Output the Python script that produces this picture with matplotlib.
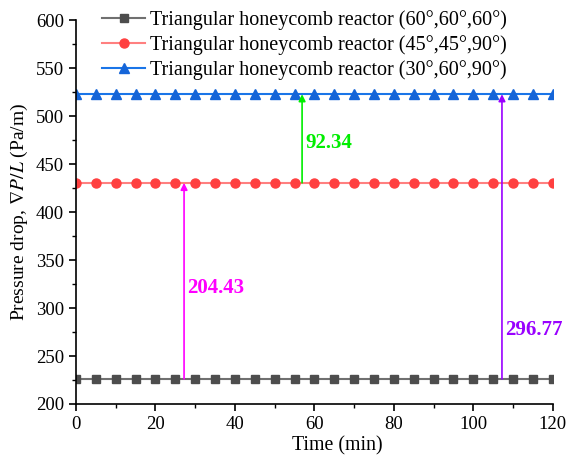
import matplotlib.pyplot as plt
import numpy as np
from matplotlib.ticker import MultipleLocator

plt.rcParams.update({
    'font.family': 'Liberation Serif',
    'mathtext.fontset': 'stix',
    'font.size': 13,
})

time_min = np.arange(0, 121, 5)
p_60_60_60 = [226.0] * len(time_min)
p_45_45_90 = [430.43] * len(time_min)
p_30_60_90 = [522.77] * len(time_min)

labels = [
    'Triangular honeycomb reactor (60°,60°,60°)',
    'Triangular honeycomb reactor (45°,45°,90°)',
    'Triangular honeycomb reactor (30°,60°,90°)',
]

# difference arrows: (x position, bottom level, top level, text, text y, color)
diffs = [
    (27.2, 226.0, 430.43, '204.43', 321, '#ff00ff'),
    (56.9, 430.43, 522.77, '92.34', 472, '#00ee00'),
    (107.2, 226.0, 522.77, '296.77', 277, '#9900ff'),
]

fig = plt.figure(figsize=(5.67, 4.57), dpi=100)
ax = fig.add_axes([0.134, 0.116, 0.841, 0.840])

ax.plot(time_min, p_60_60_60, color='#707070', lw=1.5, marker='s', ms=6,
        mfc='#4d4d4d', mec='#4d4d4d', label=labels[0])
ax.plot(time_min, p_45_45_90, color='#ff8080', lw=1.5, marker='o', ms=6.5,
        mfc='#ff4040', mec='#ff4040', label=labels[1])
ax.plot(time_min, p_30_60_90, color='#1a75e8', lw=1.5, marker='^', ms=7,
        mfc='#1565d8', mec='#1565d8', label=labels[2])

for x, lo, hi, txt, ty, col in diffs:
    ax.annotate('', xy=(x, hi), xytext=(x, lo),
                arrowprops=dict(arrowstyle='-|>', color=col, lw=1.2,
                                mutation_scale=10, shrinkA=0, shrinkB=0))
    ax.text(x + 0.8, ty, txt, color=col, fontsize=15, fontweight='bold',
            va='center', ha='left')

ax.set_xlim(0, 120)
ax.set_ylim(200, 600)
ax.xaxis.set_major_locator(MultipleLocator(20))
ax.xaxis.set_minor_locator(MultipleLocator(10))
ax.yaxis.set_major_locator(MultipleLocator(50))
ax.yaxis.set_minor_locator(MultipleLocator(25))
ax.tick_params(which='major', direction='out', length=5, width=1.2, labelsize=13.5)
ax.tick_params(which='minor', direction='out', length=3, width=1.0)

for side in ('top', 'right'):
    ax.spines[side].set_visible(False)
for side in ('left', 'bottom'):
    ax.spines[side].set_linewidth(1.2)

ax.set_xlabel('Time (min)', fontsize=14.3)
ax.xaxis.set_label_coords(0.548, -0.084)
ax.set_ylabel(r'Pressure drop, $\nabla P/L$ (Pa/m)', fontsize=14, labelpad=4)

ax.legend(loc='upper left', bbox_to_anchor=(0.038, 1.047), frameon=False,
          fontsize=14.5, handlelength=2.15, labelspacing=0.25, handletextpad=0.25,
          borderaxespad=0)

fig.savefig('out.png', dpi=100)
